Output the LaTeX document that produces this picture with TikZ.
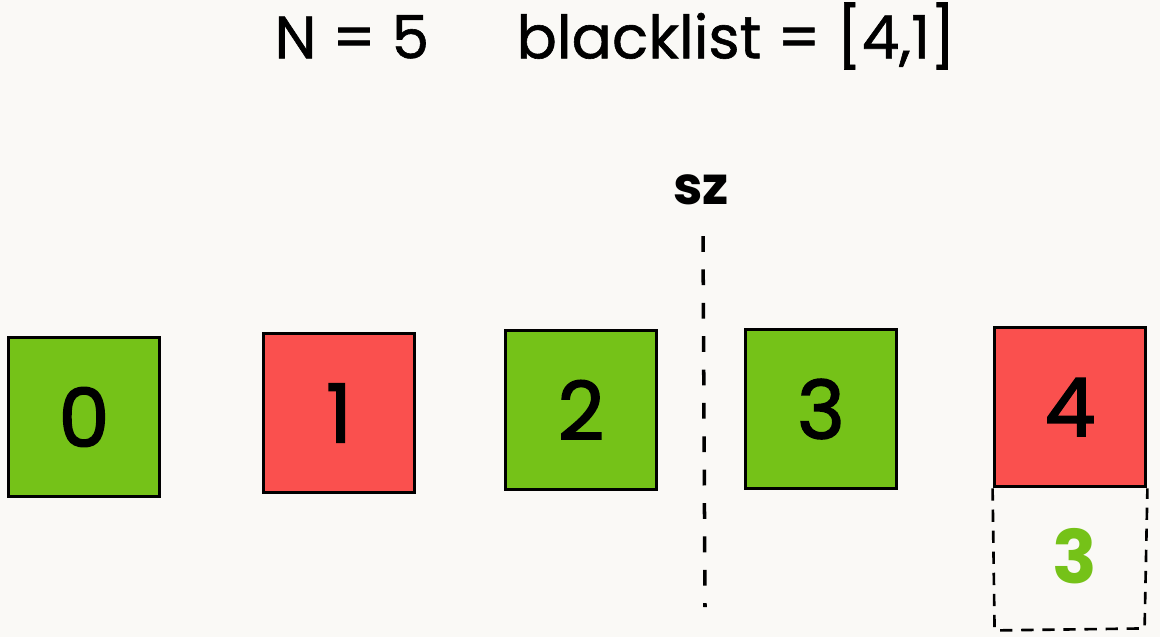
\documentclass[tikz,border=0pt]{standalone}
\usepackage{fontspec}
\setmainfont{Poppins}
\newfontfamily\thickfont[FakeBold=2]{Poppins}
\newfontfamily\headfont[FakeBold=1]{Poppins}
\usetikzlibrary{positioning}
\definecolor{okgreen}{RGB}{117,194,24}
\definecolor{badred}{RGB}{250,80,78}
\definecolor{paper}{RGB}{250,249,246}
\begin{document}
\begin{tikzpicture}[
        x=0.02cm, y=-0.02cm,
        cell/.style={draw, line width=2.2pt, minimum width=3.02cm, minimum height=3.18cm, inner sep=0pt,
            font=\thickfont\fontsize{46}{46}\selectfont},
        ok/.style={cell, fill=okgreen},
        bad/.style={cell, fill=badred},
        cutline/.style={line width=2pt, dash pattern=on 9pt off 10pt},
        ghostline/.style={line width=1.5pt, dash pattern=on 7pt off 5pt},
    ]
    \useasboundingbox (0,0) rectangle (1160,637);
    \fill[paper] (0,0) rectangle (1160,637);
    \node[font=\headfont\fontsize{34}{34}\selectfont](title) at (615,36){N = 5\hspace{1.75cm}blacklist = [4,1]};
    \node[ok](zero) at (84,417){0};
    \node[bad](one) at (339,413){1};
    \node[ok](two) at (581,410){2};
    \node[ok](three) at (821,409){3};
    \node[bad](four) at (1070,407){4};
    % moved slot under the last blacklisted index
    \draw[ghostline] (four.south west) -- ++(2,142) -- ++(150,-2) -- (four.south east);
    \node[font=\fontsize{42}{42}\selectfont\bfseries, text=okgreen](moved) at (1075,556){3};
    \node[font=\fontsize{30}{30}\selectfont\bfseries](sz) at (701,190){sz};
    \coordinate (cuttop) at (703,236);
    \coordinate (cutbot) at (705,607);
    \draw[cutline] (cuttop) -- (cutbot);
\end{tikzpicture}
\end{document}
